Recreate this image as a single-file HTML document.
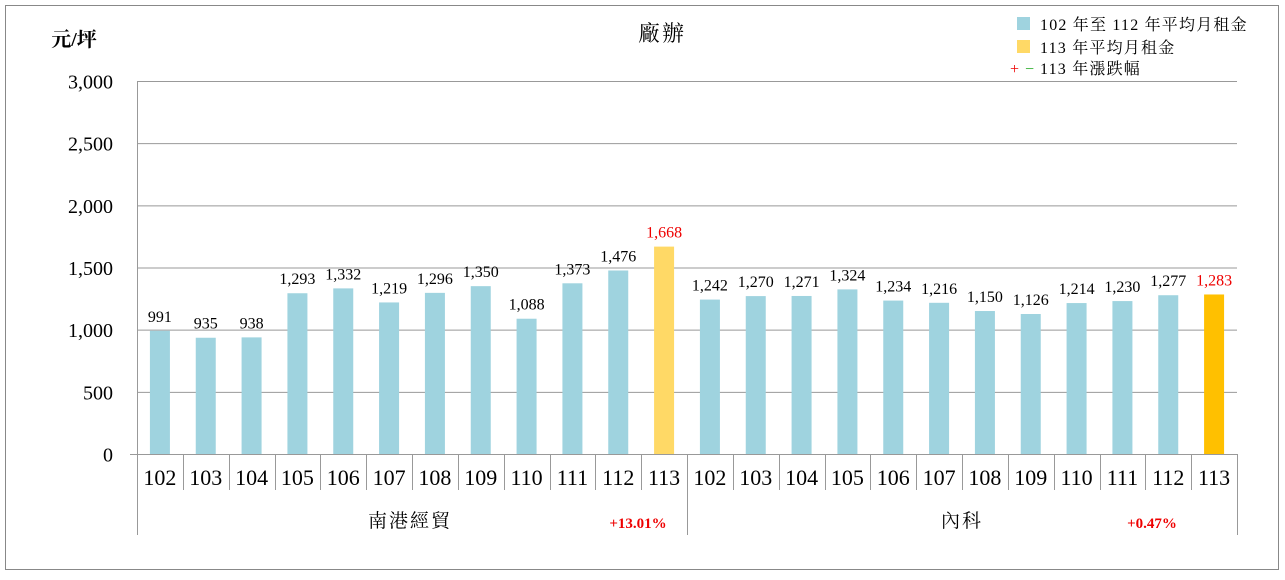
<!DOCTYPE html>
<html><head><meta charset="utf-8"><style>
body{margin:0;background:#fff}
svg text{font-family:"Liberation Serif","Noto Serif CJK SC",serif}
</style></head><body>
<svg width="1285" height="575" xmlns="http://www.w3.org/2000/svg">
<rect x="5.5" y="5.5" width="1273" height="564" fill="#fff" stroke="#888"/>
<g id="grid" stroke="#999" stroke-width="1"></g>
<g id="bars"></g>
<g id="labels"></g>
<text x="74" y="46" font-size="20" text-anchor="middle" font-weight="bold">元/坪</text>
<text x="662" y="41" font-size="22" text-anchor="middle" letter-spacing="2">廠辦</text>
<rect x="1017" y="17" width="13" height="13" fill="#9fd3df"/>
<text x="1040" y="30" font-size="16" letter-spacing="1.2">102 年至 112 年平均月租金</text>
<rect x="1017" y="40" width="13" height="13" fill="#ffd966"/>
<text x="1040" y="53" font-size="16" letter-spacing="1.2">113 年平均月租金</text>
<text x="1010" y="74" font-size="16" fill="#e00">+</text>
<text x="1025" y="74" font-size="16" fill="#2a2">−</text>
<text x="1040" y="74" font-size="16" letter-spacing="1.2">113 年漲跌幅</text>
<text x="410" y="527" font-size="19" text-anchor="middle" letter-spacing="2">南港經貿</text>
<text x="638" y="528" font-size="15" text-anchor="middle" fill="#e00" font-weight="bold">+13.01%</text>
<text x="962" y="527" font-size="19" text-anchor="middle" letter-spacing="2">內科</text>
<text x="1152" y="528" font-size="15" text-anchor="middle" fill="#e00" font-weight="bold">+0.47%</text>
</svg>
<script>
const ns="http://www.w3.org/2000/svg";
function el(p,t,a,txt){const e=document.createElementNS(ns,t);for(const k in a)e.setAttribute(k,a[k]);if(txt!=null)e.textContent=txt;document.getElementById(p).appendChild(e);}
const y=v=>454-v*373/3000;
for(let i=0;i<=6;i++){const yy=y(i*500)+0.5;
 el("grid","line",{x1:i==0?130:137,x2:1237,y1:yy,y2:yy});
 el("labels","text",{x:113,y:yy+7,"font-size":20,"text-anchor":"end"},(i*500).toLocaleString("en-US"));}
el("grid","line",{x1:137.5,x2:137.5,y1:81,y2:535});
const vals=[991,935,938,1293,1332,1219,1296,1350,1088,1373,1476,1668,1242,1270,1271,1324,1234,1216,1150,1126,1214,1230,1277,1283];
const w=1100/24;
vals.forEach((v,i)=>{const c=137+w*(i+0.5);
 let col="#9fd3df",tc="#000";
 if(i==11){col="#ffd966";tc="#e00"} if(i==23){col="#ffc000";tc="#e00"}
 el("bars","rect",{x:c-10,y:y(v),width:20,height:454-y(v),fill:col});
 el("labels","text",{x:c,y:y(v)-9,"font-size":16,"text-anchor":"middle",fill:tc},v.toLocaleString("en-US"));
 el("labels","text",{x:c,y:485,"font-size":22,"text-anchor":"middle"},String(102+(i%12)));
 const xr=Math.round(137+w*(i+1))+0.5;
 el("grid","line",{x1:xr,x2:xr,y1:454,y2:(i==11||i==23)?535:490});
});
</script>
</body></html>
